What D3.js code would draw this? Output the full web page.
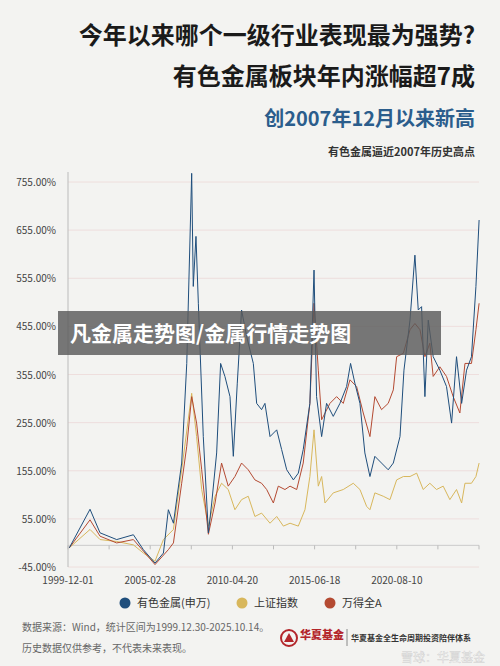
<!DOCTYPE html>
<html><head><meta charset="utf-8">
<script src="https://cdn.jsdelivr.net/npm/d3@7"></script>
<style>body{margin:0;background:#f3f3f1;}svg{display:block;font-family:"Noto Sans CJK SC","Noto Sans",sans-serif;}</style>
</head><body><svg id="c" width="500" height="666"></svg>
<script>
const yTicks=[-45,55,155,255,355,455,555,655,755];
const xTickLabels=["1999-12-01","2005-02-28","2010-04-20","2015-06-18","2020-08-10"];
const seriesNames=["有色金属(申万)","上证指数","万得全A"];
const metalsYears=[2000.0,2001.3,2001.93,2002.98,2004.03,2004.66,2005.39,2005.92,2006.23,2006.55,2007.07,2007.39,2007.7,2007.8,2007.97,2008.12,2008.43,2008.75,2008.96,2009.27,2009.52,2009.79,2010.11,2010.32,2010.57,2010.84,2011.16,2011.58,2011.79,2012.1,2012.31,2012.63,2013.05,2013.36,2013.68,2014.1,2014.41,2014.72,2015.14,2015.4,2015.56,2015.88,2016.19,2016.61,2017.03,2017.45,2017.7,2017.97,2018.29,2018.6,2018.92,2019.23,2019.65,2020.07,2020.39,2020.81,2021.06,2021.44,2021.75,2021.96,2022.17,2022.38,2022.59,2022.9,2023.32,2023.74,2024.06,2024.37,2024.69,2025.0,2025.31,2025.59,2025.79];
const metalsValues=[-5,75,26,12,22,-9,-37,-16,74,46,171,378,773,538,642,503,226,26,88,192,378,351,309,185,337,489,434,378,295,282,295,226,240,199,157,136,150,199,295,572,309,226,295,268,295,330,378,337,295,192,143,185,171,157,171,226,364,468,603,489,496,309,468,392,364,330,254,392,295,364,392,538,676];
const shYears=[2000.0,2001.3,2001.93,2002.98,2004.03,2004.66,2005.39,2005.92,2006.55,2007.07,2007.7,2008.01,2008.33,2008.75,2009.17,2009.58,2010.0,2010.42,2010.84,2011.26,2011.68,2012.1,2012.63,2013.05,2013.47,2013.89,2014.41,2014.83,2015.14,2015.4,2015.67,2015.88,2016.09,2016.61,2017.24,2017.87,2018.29,2018.71,2018.92,2019.23,2019.76,2020.18,2020.6,2021.02,2021.44,2021.86,2022.27,2022.69,2023.11,2023.53,2023.95,2024.37,2024.69,2024.9,2025.31,2025.59,2025.79];
const shValues=[-5,33,12,8,1,-16,-33,12,33,157,316,226,116,40,102,129,116,74,95,102,60,67,46,60,40,46,40,74,143,240,123,143,88,109,116,129,116,81,74,109,102,95,136,143,143,150,116,129,116,123,95,116,88,129,129,143,171];
const allAYears=[2000.0,2001.3,2001.93,2002.98,2004.03,2004.66,2005.39,2006.23,2006.55,2007.07,2007.39,2007.7,2008.01,2008.33,2008.75,2009.17,2009.58,2010.0,2010.42,2010.84,2011.26,2011.68,2012.1,2012.42,2012.84,2013.15,2013.57,2013.89,2014.31,2014.72,2015.14,2015.4,2015.67,2015.88,2016.4,2016.82,2017.24,2017.66,2018.08,2018.5,2018.92,2019.23,2019.65,2020.07,2020.39,2020.6,2021.02,2021.44,2021.75,2022.07,2022.38,2022.69,2022.9,2023.32,2023.74,2024.16,2024.58,2024.9,2025.31,2025.59,2025.79];
const allAValues=[-5,53,19,5,12,-12,-40,-9,5,129,206,309,254,157,23,88,171,123,143,171,157,136,129,116,88,123,116,123,116,171,295,503,364,261,295,309,295,344,330,275,226,309,282,295,323,392,399,448,461,448,392,420,351,371,351,309,275,378,378,448,503];
const colors=["#1f4e7c","#d8b75c","#b44a32"];

const svg=d3.select("#c");
svg.append("rect").attr("width",500).attr("height",666).attr("fill","#f3f3f1");
const T=[["今年以来哪个一级行业表现最为强势?",44,24,"#1a1a1a",700],["有色金属板块年内涨幅超7成",85,24,"#1a1a1a",700],["创2007年12月以来新高",126,20,"#2b5d8c",700],["有色金属逼近2007年历史高点",156,11,"#333",700]];
T.forEach(t=>svg.append("text").attr("x",475).attr("y",t[1]).attr("text-anchor","end").attr("font-size",t[2]).attr("font-weight",t[4]).attr("fill",t[3]).text(t[0]));

const x0=68,x1=479;
const toDate=y=>{const yr=Math.floor(y);const s=new Date(yr,0,1),e=new Date(yr+1,0,1);return new Date(+s+(y-yr)*(e-s));};
const x=d3.scaleTime().domain([new Date(1999,11,1),new Date(2025,9,14)]).range([x0,x1]);
const y=d3.scaleLinear().domain([-45,755]).range([567,182]);
const g=svg.append("g");
yTicks.forEach(v=>{
  g.append("line").attr("x1",x0).attr("x2",x1).attr("y1",y(v)).attr("y2",y(v)).attr("stroke","#ecd8d8").attr("stroke-width",0.8);
  g.append("text").attr("x",56).attr("y",y(v)+4).attr("text-anchor","end").attr("font-size",10).attr("fill","#444").text(v.toFixed(2)+"%");
});
g.append("line").attr("x1",x0).attr("x2",x0).attr("y1",172).attr("y2",567).attr("stroke","#bbb");
g.append("line").attr("x1",x0).attr("x2",x1).attr("y1",y(0)).attr("y2",y(0)).attr("stroke","#ccc");
const tickDates=d3.range(11).map(i=>new Date(+x.domain()[0]+i*(x.domain()[1]-x.domain()[0])/10));
tickDates.forEach(d=>g.append("line").attr("x1",x(d)).attr("x2",x(d)).attr("y1",y(0)).attr("y2",y(0)+4).attr("stroke","#bbb"));
xTickLabels.forEach((l,i)=>g.append("text").attr("x",x(tickDates[i*2])).attr("y",584).attr("text-anchor","middle").attr("font-size",10).attr("fill","#444").text(l));

const line=d3.line().x(d=>x(toDate(d[0]))).y(d=>y(d[1]));
const data=[[shYears,shValues,1],[allAYears,allAValues,2],[metalsYears,metalsValues,0]];
data.forEach(([ys,vs,c])=>g.append("path").attr("d",line(ys.map((v,i)=>[v,vs[i]]))).attr("fill","none").attr("stroke",colors[c]).attr("stroke-width",1));

svg.append("rect").attr("x",58).attr("y",311).attr("width",383).attr("height",44).attr("fill","rgba(90,90,90,0.82)");
svg.append("text").attr("x",70).attr("y",341).attr("font-size",21).attr("font-weight",700).attr("fill","#fff").text("凡金属走势图/金属行情走势图");

const lx=[125,242,330];
seriesNames.forEach((n,i)=>{
  svg.append("circle").attr("cx",lx[i]).attr("cy",603).attr("r",5.5).attr("fill",colors[i]);
  svg.append("text").attr("x",lx[i]+12).attr("y",607).attr("font-size",11).attr("fill","#333").text(n);
});
svg.append("text").attr("x",22).attr("y",631).attr("font-size",10).attr("fill","#666").text("数据来源：Wind，统计区间为1999.12.30-2025.10.14。");
svg.append("text").attr("x",22).attr("y",652).attr("font-size",10).attr("fill","#666").text("历史数据仅供参考，不代表未来表现。");
svg.append("circle").attr("cx",289).attr("cy",638).attr("r",8).attr("fill","none").attr("stroke","#b3262b").attr("stroke-width",2);
svg.append("path").attr("d","M289,633 L294,642 L284,642 Z").attr("fill","#b3262b");
svg.append("text").attr("x",300).attr("y",639).attr("font-size",11).attr("font-weight",900).attr("fill","#b3262b").text("华夏基金");
svg.append("line").attr("x1",347).attr("x2",347).attr("y1",629).attr("y2",646).attr("stroke","#888");
svg.append("text").attr("x",351).attr("y",641).attr("font-size",8).attr("font-weight",700).attr("fill","#333").text("华夏基金全生命周期投资陪伴体系");
svg.append("text").attr("x",485).attr("y",662).attr("text-anchor","end").attr("font-size",12).attr("fill","rgba(255,255,255,0.85)").attr("stroke","rgba(150,150,150,0.4)").attr("stroke-width",0.5).text("雪球：华夏基金");
</script></body></html>
